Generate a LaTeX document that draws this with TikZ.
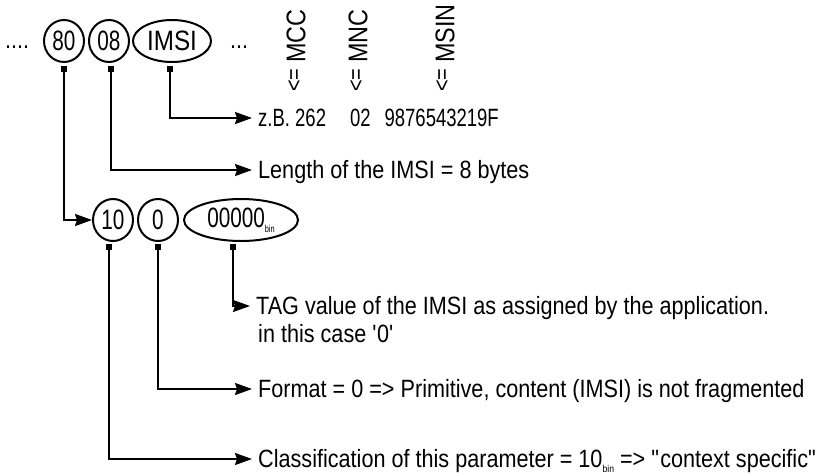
\documentclass[tikz,border=0pt]{standalone}
\usepackage{fontspec}
\setmainfont{Liberation Sans}[FakeStretch=0.865]
\newfontfamily\narrowfont{Liberation Sans}[FakeStretch=0.74]
\usetikzlibrary{shapes.geometric,arrows.meta}
\begin{document}
\begin{tikzpicture}[x=1pt,y=-1pt,
  circ/.style={draw,ellipse,line width=2pt,minimum width=40pt,minimum height=42pt,inner sep=0pt,font=\fontsize{28}{28}\narrowfont},
  tick/.style={fill=black,rectangle,minimum size=6.5pt,inner sep=0pt},
  lbl/.style={anchor=west,inner xsep=6pt,inner ysep=0pt,text height=18pt,text depth=0.5pt,font=\fontsize{25}{25}\selectfont},
  vlbl/.style={rotate=90,anchor=west,inner sep=0pt,font=\fontsize{27}{27}\selectfont},
  varr/.style={rotate=90,inner sep=0pt,font=\fontsize{23}{23}\selectfont},
  conn/.style={line width=2pt,-{Stealth[length=17pt,width=12pt,inset=2pt]}},
  dots/.style={anchor=base west,inner sep=0pt,font=\fontsize{25}{25}\selectfont}
]
\useasboundingbox (0,0) rectangle (823,475);
% top row
\node[dots] (dl) at (5,48) {....};
\node[circ] (c80) at (64,41) {80};
\node[circ] (c08) at (109,41) {08};
\node[circ,minimum width=78pt,font=\fontsize{28}{28}\rmfamily] (cim) at (172,41) {IMSI};
\node[dots] (dr) at (230,48) {...};
\node[tick] (m80) at (64,69) {};
\node[tick] (m08) at (111,69) {};
\node[tick] (mim) at (170,69) {};
% vertical labels
\node[vlbl] (mcc) at (296,63) {MCC};
\node[vlbl] (mnc) at (358,63) {MNC};
\node[vlbl] (msin) at (445,63) {MSIN};
\node[varr] (a1) at (295,80) {<=};
\node[varr] (a2) at (357,80) {<=};
\node[varr] (a3) at (443,80) {<=};
% labels
\node[lbl,font=\fontsize{25}{25}\narrowfont] (tz) at (252,118) {z.B. 262\hspace{24pt}02\hspace{14pt}9876543219F};
\node[lbl] (tl) at (252,170) {Length of the IMSI = 8 bytes};
% second row
\node[circ] (c10) at (113,220) {10};
\node[circ] (c0) at (158,220) {0};
\node[circ,minimum width=114pt] (cbin) at (241,220) {00000\raisebox{-5pt}{\fontsize{10}{10}\selectfont bin}};
\node[tick] (m10) at (109,247) {};
\node[tick] (m0) at (158,247) {};
\node[tick] (mbin) at (233,247) {};
\node[lbl] (tt) at (250,306) {TAG value of the IMSI as assigned by the application.};
\node[lbl,inner xsep=0pt] (tt2) at (258,334) {in this case \textquotesingle 0\textquotesingle};
\node[lbl] (tf) at (252,389) {Format = 0 => Primitive, content (IMSI) is not fragmented};
\node[lbl] (tc) at (252,459) {Classification of this parameter = 10\raisebox{-5pt}{\fontsize{10}{10}\selectfont bin} => \textquotedbl context specific\textquotedbl};
% connectors
\draw[conn] (mim.south) |- (tz.west);
\draw[conn] (m08.south) |- (tl.west);
\draw[conn] (m80.south) |- (c10.west);
\draw[conn] (mbin.south) |- (tt.west);
\draw[conn] (m0.south) |- (tf.west);
\draw[conn] (m10.south) |- (tc.west);
\end{tikzpicture}
\end{document}
